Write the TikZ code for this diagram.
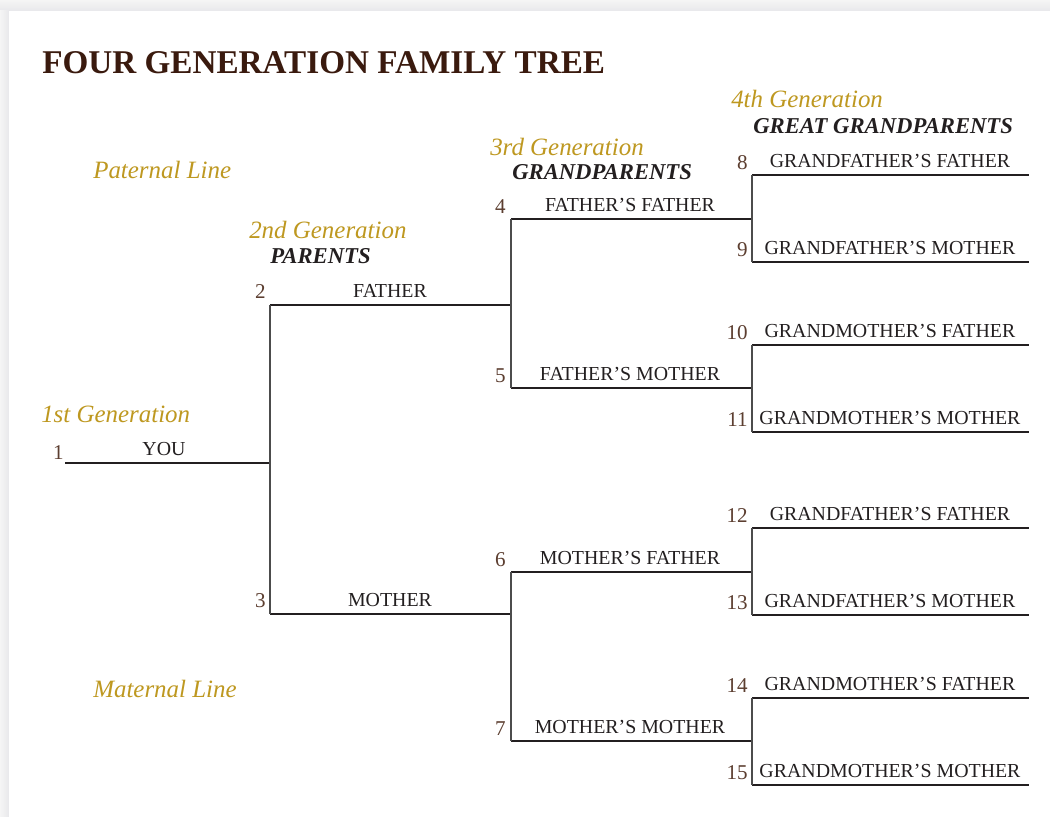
\documentclass[tikz,border=0pt]{standalone}
\usepackage{fontspec}
\setmainfont{Liberation Serif}
\definecolor{gold}{RGB}{190,152,32}
\definecolor{ink}{RGB}{35,31,32}
\definecolor{numc}{RGB}{92,62,48}
\definecolor{titlec}{RGB}{58,26,14}
\definecolor{shadowc}{RGB}{232,232,235}
\tikzset{
  hline/.style={draw=ink, line width=2.1pt},
  vline/.style={draw=black!70, line width=1.1pt},
  lbl/.style={anchor=base, inner sep=0pt, text=ink, font=\fontsize{14.9pt}{17pt}\selectfont},
  num/.style={anchor=base east, inner sep=0pt, text=numc, font=\fontsize{15.8pt}{18pt}\selectfont},
  gen/.style={anchor=base west, inner sep=0pt, text=gold, font=\fontsize{18.7pt}{21pt}\selectfont\itshape},
  sub/.style={anchor=base west, inner sep=0pt, text=ink, font=\fontsize{17pt}{19pt}\selectfont\bfseries\itshape},
}
\begin{document}
\begin{tikzpicture}[x=0.75pt, y=-0.75pt]
\useasboundingbox (0,0) rectangle (1050,817);
% background and card
\fill[shadowc] (0,0) rectangle (1050,817);
\shade[top color=white!96!black, bottom color=shadowc] (0,0) rectangle (1050,11);
\shade[left color=white!96!black, right color=shadowc] (0,11) rectangle (9,817);
\fill[white] (9,11) rectangle (1050,817);

% title
\node[anchor=base west, inner sep=0pt, text=titlec, font=\fontsize{24.9pt}{28pt}\selectfont\bfseries] (title) at (42,74) {FOUR GENERATION FAMILY TREE};

% section labels
\node[gen] (pat) at (93,178) {Paternal Line};
\node[gen] (mat) at (93,697) {Maternal Line};
\node[gen] (gen1) at (41,422) {1st Generation};
\node[gen] (gen2) at (249,238) {2nd Generation};
\node[sub] (sub2) at (270,263) {PARENTS};
\node[gen] (gen3) at (490,155) {3rd Generation};
\node[sub] (sub3) at (512,179) {GRANDPARENTS};
\node[gen] (gen4) at (731,108) {4th Generation};
\node[sub] (sub4) at (753,133) {GREAT GRANDPARENTS};

% generation 1
\coordinate (a1) at (65,463);
\coordinate (b1) at (270,463);
\draw[hline] (a1) -- (b1);
\node[lbl] (t1) at (164,455) {YOU};
\node[num] (n1) at (64,459) {1};

% generation 2
\foreach \n/\y/\t in {2/305/FATHER, 3/614/MOTHER}{
  \coordinate (a\n) at (270,\y);
  \coordinate (b\n) at (511,\y);
  \draw[hline] (a\n) -- (b\n);
  \node[lbl] (t\n) at (390,\y-8) {\t};
  \node[num] (n\n) at (266,\y-7) {\n};
}
\draw[vline] (a2) -- (a3);

% generation 3
\foreach \n/\y/\t in {4/219/FATHER’S FATHER, 5/388/FATHER’S MOTHER, 6/572/MOTHER’S FATHER, 7/741/MOTHER’S MOTHER}{
  \coordinate (a\n) at (511,\y);
  \coordinate (b\n) at (752,\y);
  \draw[hline] (a\n) -- (b\n);
  \node[lbl] (t\n) at (630,\y-8) {\t};
  \node[num] (n\n) at (506,\y-6) {\n};
}
\draw[vline] (a4) -- (a5);
\draw[vline] (a6) -- (a7);

% generation 4
\foreach \n/\y/\t in {8/175/GRANDFATHER’S FATHER, 9/262/GRANDFATHER’S MOTHER, 10/345/GRANDMOTHER’S FATHER, 11/432/GRANDMOTHER’S MOTHER, 12/528/GRANDFATHER’S FATHER, 13/615/GRANDFATHER’S MOTHER, 14/698/GRANDMOTHER’S FATHER, 15/785/GRANDMOTHER’S MOTHER}{
  \coordinate (a\n) at (752,\y);
  \coordinate (b\n) at (1029,\y);
  \draw[hline] (a\n) -- (b\n);
  \node[lbl] (t\n) at (890,\y-8) {\t};
  \node[num] (n\n) at (748,\y-6) {\n};
}
\draw[vline] (a8) -- (a9);
\draw[vline] (a10) -- (a11);
\draw[vline] (a12) -- (a13);
\draw[vline] (a14) -- (a15);
\end{tikzpicture}
\end{document}
